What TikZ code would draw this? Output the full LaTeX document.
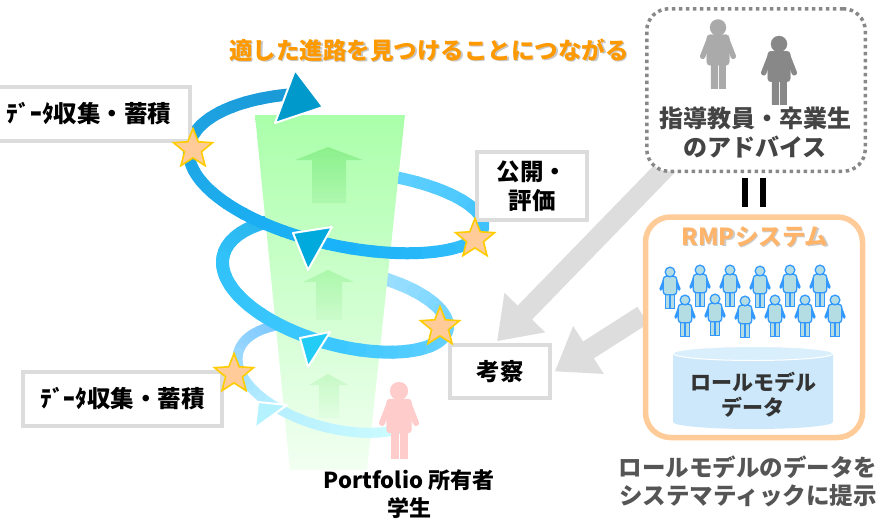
\documentclass[tikz,border=0pt]{standalone}
\usepackage{fontspec}
\newfontfamily\jp{Noto Sans CJK JP}
\usetikzlibrary{arrows.meta,shapes.geometric}

\pgfdeclarelayer{base}
\pgfdeclarelayer{bg}
\pgfsetlayers{base,bg,main}

\definecolor{labelgray}{HTML}{DCDCDC}
\definecolor{arrowgray}{HTML}{DDDDDD}
\definecolor{titleorange}{HTML}{FF9900}
\definecolor{rmporange}{HTML}{FFCC99}
\definecolor{rmptitle}{HTML}{FFB46A}
\definecolor{starfill}{HTML}{FFCC99}
\definecolor{starline}{HTML}{FFCC00}
\definecolor{advgray}{HTML}{888888}
\definecolor{advtext}{HTML}{444444}
\definecolor{captext}{HTML}{555555}
\definecolor{cyltext}{HTML}{333333}
\definecolor{cylbody}{HTML}{CCE8FA}
\definecolor{cyltop}{HTML}{DAEFFC}
\definecolor{studentpink}{HTML}{FFCCCC}
\definecolor{mentorlight}{HTML}{AAAAAA}
\definecolor{mentordark}{HTML}{888888}
\definecolor{modelfill}{HTML}{B3DDE3}
\definecolor{modelline}{HTML}{3399FF}
\definecolor{funnelTop}{HTML}{AAFFAA}
\definecolor{funnelMid}{HTML}{D3FFD3}
\definecolor{funnelBot}{HTML}{F2FFF2}
\definecolor{up1a}{HTML}{8CF08C}
\definecolor{up1b}{HTML}{AEF8AE}
\definecolor{up2a}{HTML}{ACF7AC}
\definecolor{up2b}{HTML}{CCFBCC}
\definecolor{up3a}{HTML}{C6F9C6}
\definecolor{up3b}{HTML}{E2FDE2}
% spiral band colours
\definecolor{e1a}{HTML}{66D3FF}
\definecolor{e1b}{HTML}{3EC2FC}
\definecolor{e1c}{HTML}{1AB2F8}
\definecolor{e1d}{HTML}{1EA7E6}
\definecolor{e1e}{HTML}{1B9AD8}
\definecolor{e2a}{HTML}{A8E2FF}
\definecolor{e2b}{HTML}{6CD2FF}
\definecolor{e2c}{HTML}{3CC8FF}
\definecolor{e2d}{HTML}{30C2F8}
\definecolor{e2e}{HTML}{2AB4EC}
\definecolor{e3a}{HTML}{CCFCFF}
\definecolor{e3b}{HTML}{B8F0FF}
\definecolor{e3c}{HTML}{9AD8FF}
\definecolor{e3d}{HTML}{7EC8FF}
\definecolor{tri1}{HTML}{0099CC}
\definecolor{tri2}{HTML}{00AADD}
\definecolor{tri3}{HTML}{22CCF5}
\definecolor{tri4}{HTML}{B5F2FF}

\newcommand\jpfont[2]{\jp\bfseries\fontsize{#1}{#2}\selectfont}

% one turn of the spiral: centre, half axes, tilt, vertical drift per half turn
\newcommand\setloop[6]{\def\Lcx{#1}\def\Lcy{#2}\def\LA{#3}\def\LB{#4}\def\Lphi{#5}\def\LD{#6}}
% band along the current turn from angle #2 to #3, colour #4 fading to #5
\newcommand\helixarc[5]{%
  \foreach \k in {0,...,9}{%
    \pgfmathsetmacro\ta{(#2)+((#3)-(#2))*\k/10}%
    \pgfmathsetmacro\tb{(#2)+((#3)-(#2))*(\k+1)/10}%
    \pgfmathtruncatemacro\pc{100-100*\k/9}%
    \draw[line width=#1pt, line cap=round, line join=round, draw={#4!\pc!#5}]
      plot[domain=\ta:\tb, samples=5, variable=\t]
      ({\Lcx+\LA*cos(\t)*cos(\Lphi)-\LB*sin(\t)*sin(\Lphi)},
       {\Lcy+\LA*cos(\t)*sin(\Lphi)+\LB*sin(\t)*cos(\Lphi)+\LD*(180-(\t))/180});
  }}

% a standing figure: head centre (#1,#2), scale #3, fill #4, outline #5, outline width #6, arm width #7
\newcommand\figperson[7]{%
  \begin{scope}[shift={(#1,#2)}, scale=#3]
    \draw[line width=#7, line cap=round, draw=#5] (-10,14) -- (-17,32) (10,14) -- (17,32);
    \filldraw[fill=#4, draw=#5, line width=#6] (-8,40) rectangle (-1,67) (1,40) rectangle (8,67);
    \filldraw[fill=#4, draw=#5, line width=#6, rounded corners=3pt] (-12.5,8) rectangle (12.5,42);
    \filldraw[fill=#4, draw=#5, line width=#6] (0,0) circle[radius=9];
  \end{scope}}

\begin{document}
\begin{tikzpicture}[x=1pt,y=-1pt,
  lbl/.style={draw=labelgray, line width=3.5pt, fill=white, inner sep=0pt, align=center,
    text=black, font=\jpfont{23.5}{29}},
  grayarrow/.style={draw=arrowgray, line width=20pt, -{Triangle[length=40pt,width=54pt]}},
  tri/.style={draw=white, line width=2pt, line join=round},
  starmark/.style={star, star points=5, star point ratio=2.3, minimum size=41pt, inner sep=0pt,
    fill=starfill, draw=starline, line width=1.6pt}]

\begin{pgfonlayer}{base}
  \fill[white] (0,0) rectangle (880,522);
\end{pgfonlayer}
\useasboundingbox (0,0) rectangle (880,522);

% ---- spiral, parts behind the funnel
\setloop{335}{378}{100}{50}{15}{0}
\helixarc{10}{180}{232}{e3c}{e3d}
\setloop{335}{280.8}{114.5}{50}{12}{25.4}
\helixarc{13}{-85}{0}{e2a}{e2b}
\helixarc{13}{180}{236}{e2d}{e2e}
\setloop{336}{168.7}{148.5}{56.5}{8}{38.6}
\helixarc{12}{-85}{0}{e1a}{e1b}

% ---- growth funnel with its upward arrows
\shade[top color=funnelTop, middle color=funnelMid, bottom color=funnelBot]
  (255,115) -- (405,115) -- (367,470) -- (290,470) -- cycle;
\shade[top color=up1a, bottom color=up1b]
  (328,147) -- (363,160) -- (346,160) -- (346,203) -- (312,203) -- (312,160) -- (295,160) -- cycle;
\shade[top color=up2a, bottom color=up2b]
  (328,270) -- (354,282) -- (342,282) -- (342,320) -- (316,320) -- (316,282) -- (303,282) -- cycle;
\shade[top color=up3a, bottom color=up3b]
  (328,374) -- (348,385) -- (339,385) -- (339,418) -- (319,418) -- (319,385) -- (309,385) -- cycle;

% ---- spiral, parts in front of the funnel
\setloop{335}{378}{100}{50}{15}{0}
\helixarc{10}{40}{120}{e3a}{e3b}
\helixarc{10}{120}{180}{e3b}{e3c}
\setloop{335}{280.8}{114.5}{50}{12}{25.4}
\helixarc{13}{0}{90}{e2b}{e2c}
\helixarc{13}{90}{180}{e2c}{e2d}
\setloop{336}{168.7}{148.5}{56.5}{8}{38.6}
\helixarc{12}{0}{90}{e1b}{e1c}
\helixarc{12}{90}{180}{e1c}{e1d}
\helixarc{12}{180}{250}{e1d}{e1e}

% ---- direction marks on the spiral
\filldraw[tri, fill=tri1] (295,70) -- (323,107) -- (275,123) -- cycle;
\filldraw[tri, fill=tri2] (293,233) -- (332,227) -- (308,270) -- cycle;
\filldraw[tri, fill=tri3] (300,338) -- (330,332) -- (308,367) -- cycle;
\filldraw[tri, fill=tri4] (258,402) -- (287,405) -- (255,428) -- cycle;

% ---- portfolio owner
\figperson{399}{391}{1}{studentpink}{studentpink}{0.1pt}{6pt}
\node[font=\jpfont{22}{28}, align=center, inner sep=0pt] (owner) at (409,494) {Portfolio 所有者\\学生};

% ---- step labels
\node[lbl, minimum width=202pt, minimum height=54pt] (collect1) at (89,114) {ﾃﾞｰﾀ収集・蓄積};
\node[lbl, minimum width=199pt, minimum height=54pt] (collect2) at (122.5,399) {ﾃﾞｰﾀ収集・蓄積};
\node[lbl, minimum width=110pt, minimum height=68pt] (publish) at (532,186) {公開・\\評価};
\node[lbl, minimum width=100pt, minimum height=53pt] (kousatsu) at (500,371.5) {考察};

\node[starmark] (s1) at (193,149) {};
\node[starmark] (s2) at (475,239) {};
\node[starmark] (s3) at (440,327) {};
\node[starmark] (s4) at (234,374) {};

% ---- title
\node[font=\jpfont{23.5}{28}, text=black!22, inner sep=0pt] at (430.5,51.5) {適した進路を見つけることにつながる};
\node[font=\jpfont{23.5}{28}, text=titleorange, inner sep=0pt] (title) at (429,50) {適した進路を見つけることにつながる};

% ---- mentors and graduates
\node[draw=advgray, line width=3.5pt, dash pattern=on 3.5pt off 3.5pt, rounded corners=22pt,
  fill=white, minimum width=218.5pt, minimum height=162.5pt, inner sep=0pt] (advice) at (756,90) {};
\figperson{718}{27.5}{0.9}{mentorlight}{mentorlight}{0.1pt}{5.4pt}
\figperson{779}{44}{0.9}{mentordark}{mentordark}{0.1pt}{5.4pt}
\node[font=\jpfont{24}{29}, text=advtext, align=center, inner sep=0pt] (advtxt) at (755,133)
  {指導教員・卒業生\\のアドバイス};

\fill[black] (742,178) rectangle (748,207);
\fill[black] (760,178) rectangle (766,207);

% ---- RMP system
\node[draw=rmporange, line width=5.5pt, rounded corners=25pt, fill=white,
  minimum width=217pt, minimum height=220.5pt, inner sep=0pt] (rmp) at (754,327.25) {};
\node[font=\jpfont{23.5}{28}, text=black!20, inner sep=0pt] at (756.2,238.2) {RMPシステム};
\node[font=\jpfont{23.5}{28}, text=rmptitle, inner sep=0pt] (rmptitle) at (755,237) {RMPシステム};

\foreach \px/\py in {670/272, 700/270, 730/270, 760/271, 790/270, 820/270}
  \figperson{\px}{\py}{0.54}{modelfill}{modelline}{1.3pt}{3.1pt};
\foreach \px/\py in {685/300, 715/299, 745/301, 775/300, 805/300, 835/300}
  \figperson{\px}{\py}{0.54}{modelfill}{modelline}{1.3pt}{3.1pt};

\fill[cylbody] (673,353.5) -- (673,422) arc[start angle=180, end angle=360, x radius=80pt, y radius=7pt]
  -- (833,353.5) -- cycle;
\filldraw[fill=cyltop, draw=white, line width=1pt] (753,353.5) ellipse[x radius=80pt, y radius=7pt];
\node[font=\jpfont{21}{25}, text=cyltext, align=center, inner sep=0pt] (rmdata) at (753,394.5)
  {ロールモデル\\データ};

\node[font=\jpfont{23.5}{28}, text=captext, align=center, inner sep=0pt] (caption) at (748,481)
  {ロールモデルのデータを\\システマティックに提示};

% ---- feedback arrows into reflection
\begin{pgfonlayer}{bg}
  \draw[grayarrow] ([xshift=30pt,yshift=15pt]advice.south west) -- ([xshift=-3pt,yshift=2pt]kousatsu.north);
  \draw[grayarrow] ([yshift=12pt]rmp.west) -- ([xshift=3pt]kousatsu.east);
\end{pgfonlayer}

\end{tikzpicture}
\end{document}
